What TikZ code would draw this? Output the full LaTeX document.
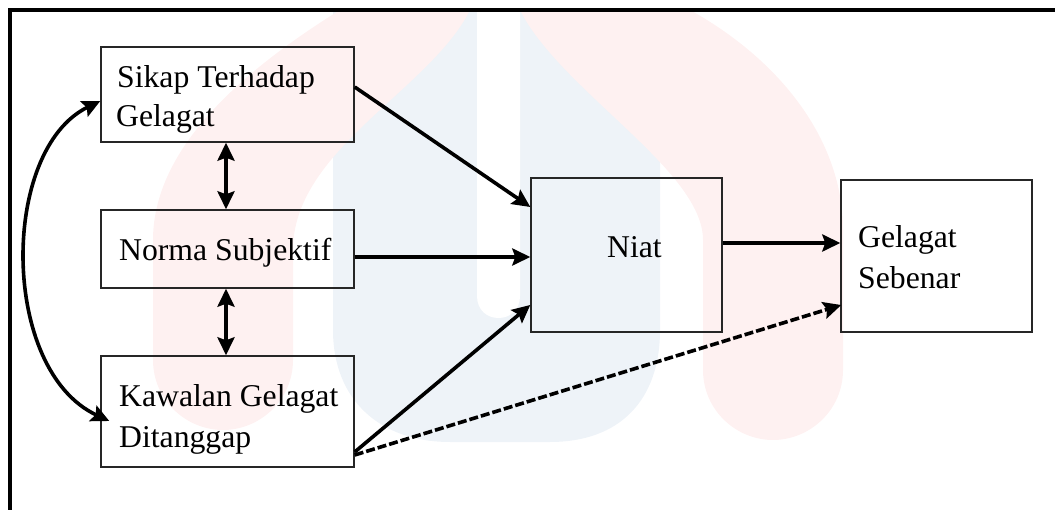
\documentclass[tikz,border=0pt]{standalone}
\usepackage{fontspec}
\setmainfont{Liberation Serif}
\usetikzlibrary{arrows.meta}
\definecolor{wmblue}{RGB}{238,243,248}
\definecolor{wmpink}{RGB}{254,241,241}
\begin{document}
\begin{tikzpicture}[x=1pt,y=-1pt,
  box/.style={draw=black!85, line width=1.4pt, rectangle, inner sep=0pt},
  lbl/.style={anchor=base west, inner sep=0pt, font=\fontsize{31.7}{40}\selectfont},
  arr/.style={line width=3.6pt, -{Stealth[length=18pt,width=17pt,inset=3pt]}},
  darr/.style={line width=3.6pt, {Stealth[length=18pt,width=17pt,inset=3pt]}-{Stealth[length=18pt,width=17pt,inset=3pt]}},
  dasharr/.style={arr, dash pattern=on 9pt off 3pt},
]
\useasboundingbox (0,0) rectangle (1055,510);

% faint background emblem
\fill[wmblue] (333,10) -- (333,330) .. controls (333,400) and (380,442) .. (450,442)
  -- (550,442) .. controls (620,442) and (660,400) .. (660,330) -- (660,10) -- cycle;
\fill[white] (477,10) -- (477,296) .. controls (477,310) and (487,318) .. (498.5,318)
  .. controls (510,318) and (520,310) .. (520,296) -- (520,10) -- cycle;
\fill[wmpink] (520,10) -- (690,10) .. controls (780,60) and (843,140) .. (843,230)
  -- (843,370) .. controls (843,410) and (810,440) .. (773,440)
  .. controls (736,440) and (703,410) .. (703,370) -- (703,240)
  .. controls (703,170) and (560,90) .. (520,10) -- cycle;
\fill[wmpink] (340,10) -- (470,10) .. controls (430,90) and (293,150) .. (293,250)
  -- (293,360) .. controls (293,400) and (260,430) .. (223,430)
  .. controls (186,430) and (153,400) .. (153,360) -- (153,240)
  .. controls (153,140) and (260,60) .. (340,10) -- cycle;

% frame
\draw[line width=4pt] (10,510) -- (10,10) -- (1055,10);

% boxes
\node[box, minimum width=253pt, minimum height=95pt]  (s)    at (227.5,94.5)  {};
\node[box, minimum width=253pt, minimum height=78pt]  (n)    at (227.5,249)   {};
\node[box, minimum width=253pt, minimum height=111pt] (k)    at (227.5,411.5) {};
\node[box, minimum width=191pt, minimum height=154pt] (niat) at (626.5,255)   {};
\node[box, minimum width=191pt, minimum height=152pt] (g)    at (936.5,256)   {};

% labels
\node[lbl] (s1) at (117,88)  {Sikap Terhadap};
\node[lbl] (s2) at (116,127) {Gelagat};
\node[lbl] (n1) at (119,261) {Norma Subjektif};
\node[lbl] (k1) at (119,407) {Kawalan Gelagat};
\node[lbl] (k2) at (119,447) {Ditanggap};
\node[lbl] (i1) at (607,258) {Niat};
\node[lbl] (g1) at (858,248) {Gelagat};
\node[lbl] (g2) at (858,289) {Sebenar};

% paths to intention and behaviour
\draw[arr] ([yshift=7.5pt]s.east) -- ([yshift=48pt]niat.west);
\draw[arr] ([yshift=-8pt]n.east) -- ([yshift=-2pt]niat.west);
\draw[arr] ([yshift=-40.5pt]k.east) -- ([yshift=-50pt]niat.west);
\draw[arr] ([yshift=12pt]niat.east) -- ([yshift=13pt]g.west);
\draw[dasharr] ([yshift=-43.5pt]k.east) -- ([xshift=1pt,yshift=-49pt]g.west);

% correlations among the predictors
\draw[darr] ([xshift=-1.5pt]s.south) -- ([xshift=-1.5pt]n.north);
\draw[darr] ([xshift=-1.5pt]n.south) -- ([xshift=-1.5pt]k.north);
\draw[darr] ([yshift=-6.5pt]s.west) .. controls (0,150) and (0,370) .. ([xshift=9pt,yshift=-9.5pt]k.west);
\end{tikzpicture}
\end{document}
